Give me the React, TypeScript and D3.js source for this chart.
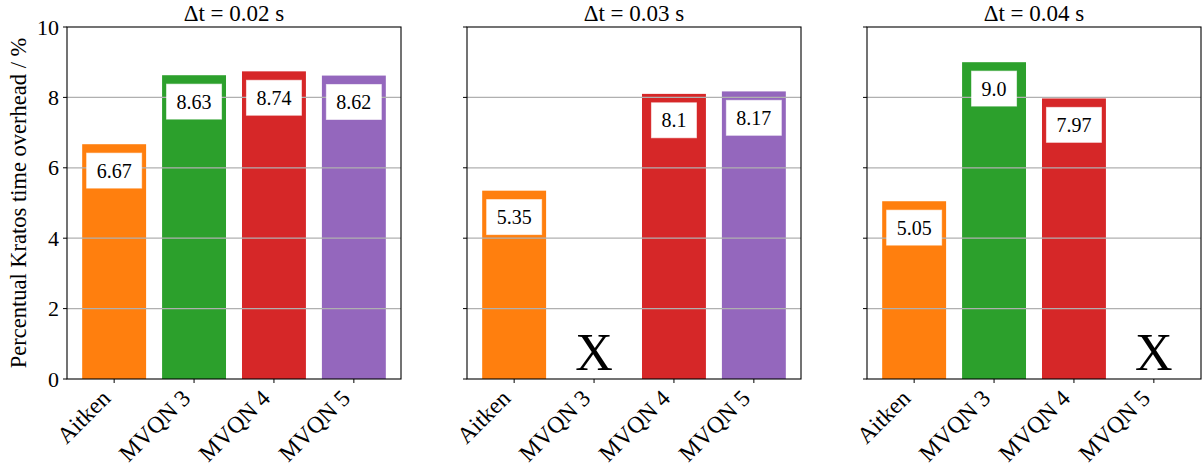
import { useMemo } from 'react'
import * as d3 from 'd3'

const categories = ['Aitken', 'MVQN 3', 'MVQN 4', 'MVQN 5']
const colors = ['#ff7f0e', '#2ca02c', '#d62728', '#9467bd']
const panelTitles = ['Δt = 0.02 s', 'Δt = 0.03 s', 'Δt = 0.04 s']
// null = run did not finish (drawn as an X)
const dt002 = [6.67, 8.63, 8.74, 8.62]
const dt003 = [5.35, null, 8.1, 8.17]
const dt004 = [5.05, 9.0, 7.97, null]
const panelValues = [dt002, dt003, dt004]
const labelValues = [['6.67', '8.63', '8.74', '8.62'], ['5.35', '', '8.1', '8.17'], ['5.05', '9.0', '7.97', '']]
const yTicks = [0, 2, 4, 6, 8, 10]

const FONT = "'Liberation Serif'"

let ctx: CanvasRenderingContext2D | null = null
function textWidth(s: string, size: number) {
  if (!ctx) ctx = document.createElement('canvas').getContext('2d')
  if (!ctx) return s.length * size * 0.5
  ctx.font = `${size}px ${FONT}`
  return ctx.measureText(s).width
}

function Panel({ idx, left }: { idx: number; left: number }) {
  const top = 27
  const width = 334
  const height = 352
  const values = panelValues[idx]

  const x = d3.scaleLinear().domain([-0.59, 3.59]).range([0, width])
  const y = d3.scaleLinear().domain([0, 10]).range([height, 0])
  const barW = x(0.8) - x(0)

  return (
    <g transform={`translate(${left},${top})`}>
      {values.map((v, i) =>
        v == null ? null : (
          <rect key={i} x={x(i) - barW / 2} y={y(v)} width={barW} height={y(0) - y(v)} fill={colors[i]} />
        )
      )}
      {/* grid over the bars, like matplotlib's default */}
      {yTicks.slice(1, -1).map(t => (
        <line key={t} x1={0} x2={width} y1={y(t)} y2={y(t)} stroke="#b0b0b0" strokeWidth={1.2} />
      ))}
      {values.map((v, i) => {
        if (v == null) {
          return (
            <text key={i} x={x(i)} y={y(0.75)} textAnchor="middle" dominantBaseline="central"
              style={{ fontSize: 52, fontFamily: FONT }} fill="#000">X</text>
          )
        }
        const lbl = labelValues[idx][i]
        const tw = textWidth(lbl, 20)
        const cy = y(v - 0.75)
        return (
          <g key={i}>
            <rect x={x(i) - tw / 2 - 10} y={cy - 17.5} width={tw + 20} height={35}
              fill="#fff" stroke="rgba(255,255,255,0.6)" strokeWidth={1} />
            <text x={x(i)} y={cy} textAnchor="middle" dominantBaseline="central"
              style={{ fontSize: 20, fontFamily: FONT }} fill="#000">{lbl}</text>
          </g>
        )
      })}
      <rect x={0} y={0} width={width} height={height} fill="none" stroke="#000" strokeWidth={1.1} />
      {yTicks.map(t => (
        <g key={t}>
          <line x1={-4} x2={0} y1={y(t)} y2={y(t)} stroke="#000" strokeWidth={1} />
          {idx === 0 && (
            <text x={-8} y={y(t)} textAnchor="end" dominantBaseline="central"
              style={{ fontSize: 22, fontFamily: FONT }}>{t}</text>
          )}
        </g>
      ))}
      {categories.map((c, i) => (
        <g key={c}>
          <line x1={x(i)} x2={x(i)} y1={height} y2={height + 4} stroke="#000" strokeWidth={1} />
          <text transform={`translate(${x(i) - 8},${height + 15}) rotate(-45)`} textAnchor="end"
            dominantBaseline="central" style={{ fontSize: 23.5, fontFamily: FONT }}>{c}</text>
        </g>
      ))}
      <text x={width / 2} y={-6} textAnchor="middle" style={{ fontSize: 23, fontFamily: FONT }}>{panelTitles[idx]}</text>
    </g>
  )
}

export default function App() {
  const lefts = useMemo(() => [67, 467, 867], [])
  return (
    <svg width={1203} height={468} style={{ position: 'absolute', left: 0, top: 0, background: '#fff', fontFamily: FONT }}>
      <rect width={1203} height={468} fill="#fff" />
      {lefts.map((l, i) => <Panel key={i} idx={i} left={l} />)}
      <text transform="translate(18,203) rotate(-90)" textAnchor="middle" dominantBaseline="central"
        style={{ fontSize: 22.5, fontFamily: FONT }}>Percentual Kratos time overhead / %</text>
    </svg>
  )
}
